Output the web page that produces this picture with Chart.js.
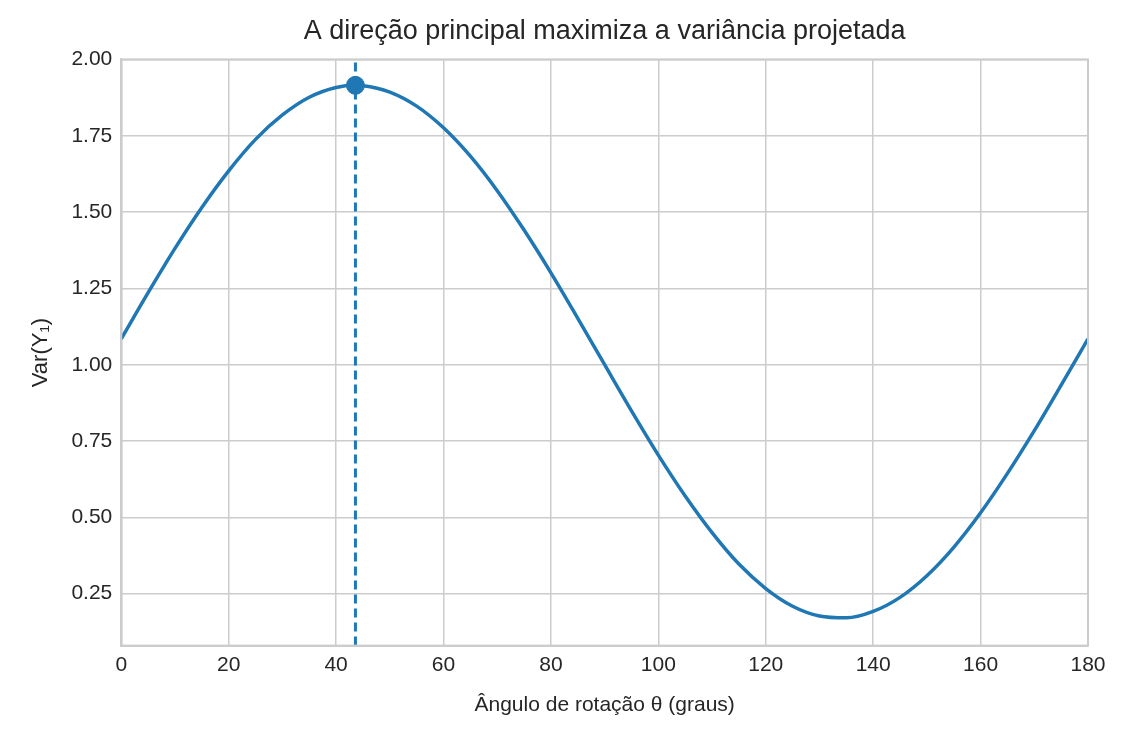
<!DOCTYPE html>
<html>
<head>
<meta charset="utf-8">
<script src="https://cdn.jsdelivr.net/npm/chart.js@4"></script>
<style>
  html, body { margin: 0; padding: 0; background: #fff; }
  #wrap { width: 1128px; height: 746px; }
</style>
</head>
<body>
<div id="wrap"><canvas id="grafico"></canvas></div>
<script>
// Ângulos (graus) e variância projetada
const angulos = [0, 5, 10, 15, 20, 25, 30, 35, 40, 43.6, 45, 50, 55, 60, 65, 70, 75, 80, 85, 90,
                 95, 100, 105, 110, 115, 120, 125, 130, 135, 140, 145, 150, 155, 160, 165, 170, 175, 180];
const variancias = [1.085, 1.236, 1.381, 1.515, 1.635, 1.738, 1.818, 1.876, 1.908, 1.915, 1.914, 1.893,
                    1.847, 1.776, 1.683, 1.570, 1.441, 1.301, 1.152, 1.000, 0.849, 0.704, 0.570, 0.450,
                    0.347, 0.267, 0.209, 0.177, 0.171, 0.192, 0.238, 0.309, 0.402, 0.515, 0.644, 0.784,
                    0.933, 1.085];
const anguloMax = 43.6;
const varMax = 1.915;
const yMin = 0.08, yMax = 2.0;
const yTicks = [0.25, 0.5, 0.75, 1.0, 1.25, 1.5, 1.75, 2.0];
const xTicks = [0, 20, 40, 60, 80, 100, 120, 140, 160, 180];

const azul = '#1f77b4';
const fonte = "'Liberation Sans', Arial, sans-serif";
const titulo = 'A direção principal maximiza a variância projetada';

new Chart(document.getElementById('grafico'), {
    type: 'line',
    data: {
        datasets: [{
            data: angulos.map((a, i) => ({ x: a, y: variancias[i] })),
            borderColor: azul,
            borderWidth: 3.5,
            pointRadius: 0,
            cubicInterpolationMode: 'monotone'
        }, {
            data: [{ x: anguloMax, y: yMin }, { x: anguloMax, y: yMax }],
            borderColor: azul,
            borderWidth: 3,
            borderDash: [9, 5],
            pointRadius: 0
        }, {
            data: [{ x: anguloMax, y: varMax }],
            backgroundColor: azul,
            borderColor: azul,
            pointRadius: 9,
            showLine: false
        }]
    },
    options: {
        responsive: true,
        maintainAspectRatio: false,
        animation: false,
        devicePixelRatio: 1,
        layout: { padding: { left: 24, right: 40, top: 11, bottom: 24 } },
        plugins: {
            legend: { display: false },
            tooltip: { enabled: false },
            title: {
                display: true,
                text: titulo,
                color: 'rgba(0,0,0,0)',   // só reserva o espaço; o texto é desenhado centrado no gráfico
                font: { family: fonte, size: 27, weight: 'normal' },
                padding: { top: 6, bottom: 10 }
            }
        },
        scales: {
            x: {
                type: 'linear',
                min: 0, max: 180,
                afterBuildTicks: s => { s.ticks = xTicks.map(v => ({ value: v })); },
                ticks: { color: '#262626', font: { family: fonte, size: 21 }, padding: 7 },
                grid: { color: '#cccccc', lineWidth: 1.5, drawTicks: false },
                border: { color: '#cccccc', width: 2 },
                title: {
                    display: true,
                    text: 'Ângulo de rotação θ (graus)',
                    color: '#262626',
                    font: { family: fonte, size: 21 },
                    padding: { top: 8 }
                }
            },
            y: {
                min: yMin, max: yMax,
                afterBuildTicks: s => { s.ticks = yTicks.map(v => ({ value: v })); },
                ticks: {
                    color: '#262626', font: { family: fonte, size: 21 }, padding: 9,
                    callback: v => v.toFixed(2)
                },
                grid: { color: '#cccccc', lineWidth: 1.5, drawTicks: false },
                border: { color: '#cccccc', width: 2 },
                title: {
                    display: true,
                    text: 'Var(Y₁)',
                    color: '#262626',
                    font: { family: fonte, size: 22 },
                    padding: { bottom: 8 }
                }
            }
        }
    },
    plugins: [{
        id: 'moldura',
        afterDraw(chart) {
            const { ctx, chartArea: a } = chart;
            ctx.save();
            ctx.strokeStyle = '#cccccc';
            ctx.lineWidth = 2;
            ctx.strokeRect(a.left, a.top, a.right - a.left, a.bottom - a.top);
            ctx.fillStyle = '#262626';
            ctx.font = '27px ' + fonte;
            ctx.textAlign = 'center';
            ctx.textBaseline = 'middle';
            ctx.fillText(titulo, (a.left + a.right) / 2, 32);
            ctx.restore();
        }
    }]
});
</script>
</body>
</html>
